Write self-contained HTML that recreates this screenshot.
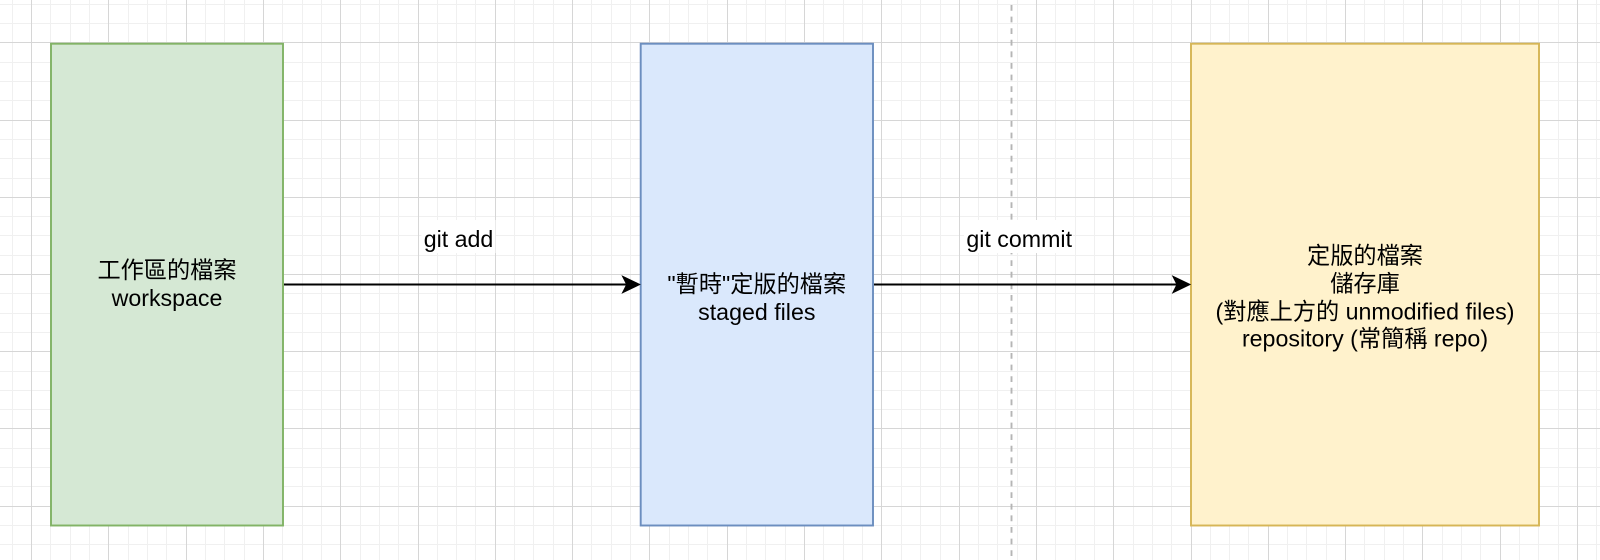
<!DOCTYPE html>
<html>
<head>
<meta charset="utf-8">
<style>
html,body{margin:0;padding:0;background:#fff;}
body{width:1600px;height:560px;overflow:hidden;}
svg{display:block;}
text{font-family:"Liberation Sans","Noto Sans CJK TC",sans-serif;font-size:23.2px;fill:#000;}
</style>
</head>
<body>
<svg width="1600" height="560" viewBox="0 0 1600 560" xmlns="http://www.w3.org/2000/svg">
<rect x="0" y="0" width="1600" height="560" fill="#ffffff"/>
<!-- minor grid -->
<path fill="none" stroke="#f0f0f0" stroke-width="1" d="
M12.5 0V560 M50.5 0V560 M70.5 0V560 M89.5 0V560 M128.5 0V560 M147.5 0V560 M166.5 0V560 M205.5 0V560 M224.5 0V560 M244.5 0V560 M282.5 0V560 M302.5 0V560 M321.5 0V560 M360.5 0V560 M379.5 0V560 M398.5 0V560 M437.5 0V560 M456.5 0V560 M475.5 0V560 M514.5 0V560 M533.5 0V560 M553.5 0V560 M591.5 0V560 M611.5 0V560 M630.5 0V560 M669.5 0V560 M688.5 0V560 M707.5 0V560 M746.5 0V560 M765.5 0V560 M785.5 0V560 M823.5 0V560 M843.5 0V560 M862.5 0V560 M901.5 0V560 M920.5 0V560 M940.5 0V560 M978.5 0V560 M997.5 0V560 M1017.5 0V560 M1055.5 0V560 M1075.5 0V560 M1094.5 0V560 M1133.5 0V560 M1152.5 0V560 M1171.5 0V560 M1210.5 0V560 M1229.5 0V560 M1248.5 0V560 M1287.5 0V560 M1306.5 0V560 M1326.5 0V560 M1364.5 0V560 M1384.5 0V560 M1403.5 0V560 M1442.5 0V560 M1461.5 0V560 M1480.5 0V560 M1519.5 0V560 M1538.5 0V560 M1558.5 0V560 M1596.5 0V560
M0 4.5H1600 M0 23.5H1600 M0 62.5H1600 M0 81.5H1600 M0 100.5H1600 M0 139.5H1600 M0 158.5H1600 M0 178.5H1600 M0 216.5H1600 M0 235.5H1600 M0 255.5H1600 M0 293.5H1600 M0 313.5H1600 M0 332.5H1600 M0 371.5H1600 M0 390.5H1600 M0 409.5H1600 M0 448.5H1600 M0 467.5H1600 M0 486.5H1600 M0 525.5H1600 M0 544.5H1600"/>
<!-- major grid -->
<path fill="none" stroke="#d6d6d6" stroke-width="1" d="
M31.5 0V560 M108.5 0V560 M186.5 0V560 M263.5 0V560 M340.5 0V560 M418.5 0V560 M495.5 0V560 M572.5 0V560 M649.5 0V560 M727.5 0V560 M804.5 0V560 M881.5 0V560 M959.5 0V560 M1036.5 0V560 M1113.5 0V560 M1191.5 0V560 M1268.5 0V560 M1345.5 0V560 M1422.5 0V560 M1500.5 0V560 M1577.5 0V560
M0 42.5H1600 M0 120.5H1600 M0 197.5H1600 M0 274.5H1600 M0 351.5H1600 M0 428.5H1600 M0 506.5H1600"/>

<!-- dashed separator -->
<line x1="1011.5" y1="5" x2="1011.5" y2="560" stroke="#b5b5b5" stroke-width="1.9" stroke-dasharray="5.8 5.8"/>

<!-- boxes -->
<rect x="51" y="43.7" width="232" height="481.8" fill="#d5e8d4" stroke="#82b366" stroke-width="1.93"/>
<rect x="640.7" y="43.7" width="232.3" height="481.8" fill="#dae8fc" stroke="#6c8ebf" stroke-width="1.93"/>
<rect x="1191" y="43.7" width="348" height="481.8" fill="#fff2cc" stroke="#d6b656" stroke-width="1.93"/>

<!-- arrows -->
<line x1="284" y1="284.5" x2="627" y2="284.5" stroke="#000" stroke-width="1.93"/>
<polygon points="639.7,284.5 622.5,276.2 626.7,284.5 622.5,292.8" fill="#000" stroke="#000" stroke-width="1"/>
<line x1="874" y1="284.5" x2="1177" y2="284.5" stroke="#000" stroke-width="1.93"/>
<polygon points="1190,284.5 1172.8,276.2 1177,284.5 1172.8,292.8" fill="#000" stroke="#000" stroke-width="1"/>

<!-- edge labels -->
<rect x="421.5" y="220" width="74" height="33" fill="#ffffff"/>
<text x="458.5" y="247" text-anchor="middle">git add</text>
<rect x="964" y="220" width="109" height="33" fill="#ffffff"/>
<text x="1019.2" y="247" text-anchor="middle">git commit</text>

<!-- box texts -->
<text x="167" y="278.1" text-anchor="middle">工作區的檔案</text>
<text x="167" y="305.9" text-anchor="middle">workspace</text>

<text x="756.8" y="292" text-anchor="middle">&quot;暫時&quot;定版的檔案</text>
<text x="756.8" y="319.8" text-anchor="middle">staged files</text>

<text x="1365" y="263.7" text-anchor="middle">定版的檔案</text>
<text x="1365" y="291.5" text-anchor="middle">儲存庫</text>
<text x="1365" y="319.3" text-anchor="middle">(對應上方的 unmodified files)</text>
<text x="1365" y="346.5" text-anchor="middle">repository (常簡稱 repo)</text>
</svg>
</body>
</html>
